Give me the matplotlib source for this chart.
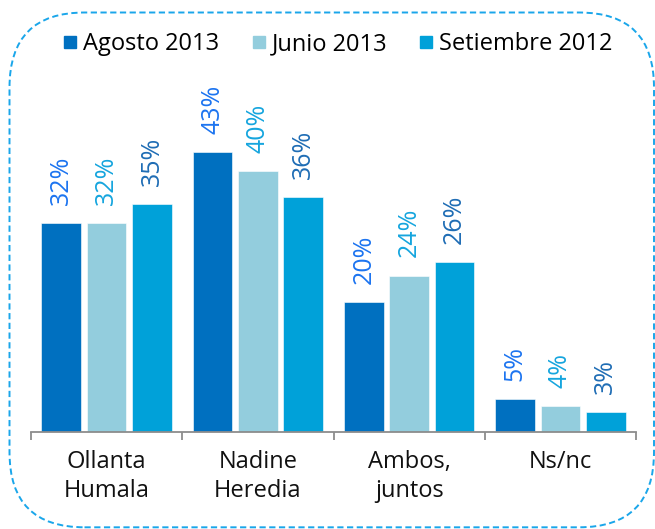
import matplotlib
matplotlib.use("Agg")
import matplotlib.pyplot as plt
from matplotlib.patches import FancyBboxPatch
from matplotlib.lines import Line2D
import numpy as np

categories = ["Ollanta\nHumala", "Nadine\nHeredia", "Ambos,\njuntos", "Ns/nc"]
series_names = ["Agosto 2013", "Junio 2013", "Setiembre 2012"]
agosto_2013 = [32, 43, 20, 5]
junio_2013 = [32, 40, 24, 4]
setiembre_2012 = [35, 36, 26, 3]
series_values = [agosto_2013, junio_2013, setiembre_2012]

bar_colors = ["#0070C0", "#93CDDD", "#00A1D9"]
label_colors = ["#1C74F0", "#15A5DE", "#1F6DB5"]

plt.rcParams['font.family'] = ['Open Sans', 'DejaVu Sans']

W, H = 655, 529
fig = plt.figure(figsize=(W / 100, H / 100), dpi=100)

ax_left, ax_right = 31, 636
ax_bottom_px, ax_top_px = 432, 106
ax = fig.add_axes([ax_left / W, (H - ax_bottom_px) / H,
                   (ax_right - ax_left) / W, (ax_bottom_px - ax_top_px) / H])

x = np.arange(len(categories))
offset = 0.30
width = 0.262
for i, (vals, col, lcol) in enumerate(zip(series_values, bar_colors, label_colors)):
    pos = x + (i - 1) * offset
    ax.bar(pos, vals, width=width, color=col, edgecolor='white', linewidth=0.4)
    for px, v in zip(pos, vals):
        ax.annotate(f"{v}%", xy=(px, v), xytext=(0, 13), textcoords='offset points',
                    ha='center', va='bottom', rotation=90, color=lcol, fontsize=18)

ax.set_xlim(-0.5, len(categories) - 0.5)
ax.set_ylim(0, 50)
ax.set_yticks([])
for s in ['top', 'right', 'left']:
    ax.spines[s].set_visible(False)
ax.spines['bottom'].set_color('#8C8C8C')
ax.spines['bottom'].set_linewidth(1.3)
ax.set_xticks(np.arange(len(categories) + 1) - 0.5)
ax.set_xticklabels([])
ax.tick_params(axis='x', which='major', length=5.5, width=1.3, color='#8C8C8C', direction='out')
ax.set_xticks(x, minor=True)
ax.set_xticklabels(categories, minor=True, fontsize=17, color='#111111', linespacing=1.3)
ax.tick_params(axis='x', which='minor', length=0, pad=13)
ax.patch.set_visible(False)

handles = [Line2D([], [], marker='s', linestyle='none', markersize=8, color=c) for c in bar_colors]
fig.legend(handles, series_names, loc='center', bbox_to_anchor=(0.5168, 1 - 44 / H),
           ncol=3, frameon=False, fontsize=17, handlelength=0.5, handletextpad=0.3,
           columnspacing=1.4, borderpad=0)

box = FancyBboxPatch((0.095, 0.017), 6.445, 5.148,
                     boxstyle="round,pad=0,rounding_size=0.75",
                     transform=fig.dpi_scale_trans, fill=False,
                     edgecolor='#1AA6EA', linewidth=1.4, linestyle=(0, (3.2, 1.8)),
                     zorder=-1)
fig.patches.append(box)

fig.savefig("out.png", dpi=100)
